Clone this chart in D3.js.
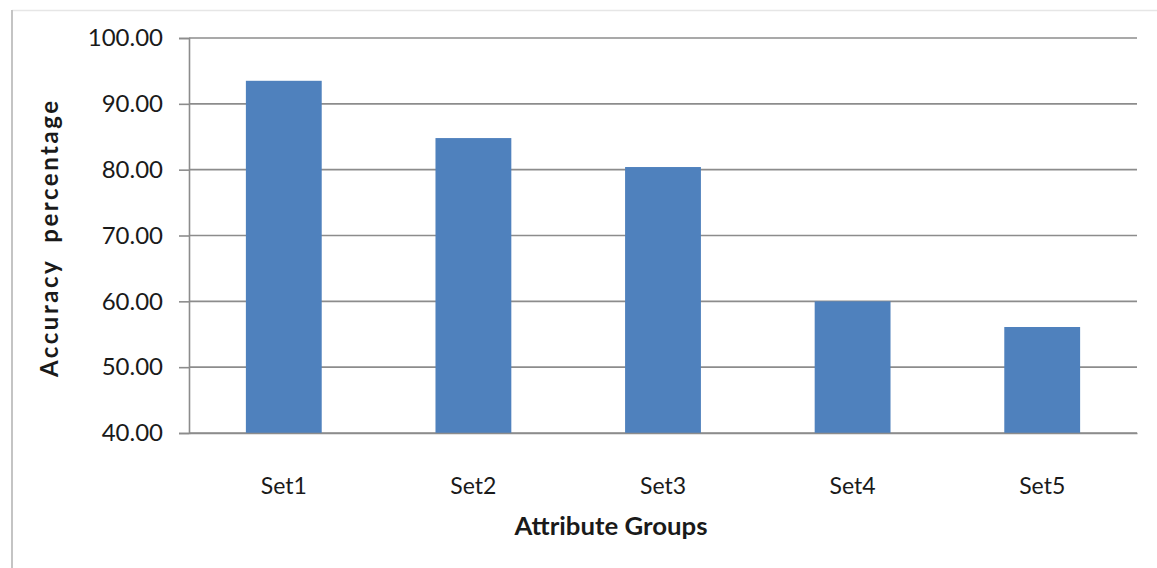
<!DOCTYPE html>
<html>
<head>
<meta charset="utf-8">
<script src="https://cdn.jsdelivr.net/npm/d3@7"></script>
<style>
  html, body { margin: 0; padding: 0; background: #ffffff; }
  svg { display: block; }
</style>
</head>
<body>
<svg id="chart" width="1157" height="568"></svg>
<script>
// Accuracy per attribute group
const categories = ["Set1", "Set2", "Set3", "Set4", "Set5"];
const accuracy = [93.5, 84.8, 80.4, 60.0, 56.1];
const yTicks = [40, 50, 60, 70, 80, 90, 100];
const yDomain = [40, 100];
const xTitle = "Attribute Groups";
const yTitle = "Accuracy  percentage";

const W = 1157, H = 568;
const margin = { left: 189, right: 20, top: 38, bottom: 135 };
const svg = d3.select("#chart");
const FONT = "Lato, 'Open Sans', sans-serif";

// chart frame
svg.append("line").attr("x1", 12).attr("x2", W).attr("y1", 10.5).attr("y2", 10.5)
  .attr("stroke", "#e6e6e6").attr("stroke-width", 1.5);
svg.append("line").attr("x1", 12).attr("x2", 12).attr("y1", 10).attr("y2", H)
  .attr("stroke", "#c4c4c4").attr("stroke-width", 2);

const x = d3.scaleBand()
  .domain(categories)
  .range([margin.left, W - margin.right])
  .paddingInner(0.6)
  .paddingOuter(0.3);

const y = d3.scaleLinear()
  .domain(yDomain)
  .range([H - margin.bottom, margin.top]);

// horizontal gridlines
svg.append("g")
  .selectAll("line")
  .data(yTicks)
  .join("line")
  .attr("x1", margin.left)
  .attr("x2", W - margin.right)
  .attr("y1", d => y(d))
  .attr("y2", d => y(d))
  .attr("stroke", "#8c8c8c")
  .attr("stroke-width", 1.6);

// bars
svg.append("g")
  .selectAll("rect")
  .data(categories.map((c, i) => ({ c, v: accuracy[i] })))
  .join("rect")
  .attr("x", d => x(d.c))
  .attr("width", x.bandwidth())
  .attr("y", d => y(d.v))
  .attr("height", d => y(yDomain[0]) - y(d.v))
  .attr("fill", "#4f81bd");

// y axis
const yAxis = svg.append("g")
  .attr("transform", `translate(${margin.left},0)`)
  .call(d3.axisLeft(y).tickValues(yTicks).tickSize(10).tickPadding(16)
    .tickFormat(d3.format(".2f")));
yAxis.select(".domain").attr("stroke", "#8c8c8c").attr("stroke-width", 1.6);
yAxis.selectAll(".tick line").attr("stroke", "#8c8c8c").attr("stroke-width", 1.6);
yAxis.selectAll(".tick text")
  .attr("font-family", FONT)
  .attr("font-size", 24)
  .attr("fill", "#1a1a1a");

// x axis
const xAxis = svg.append("g")
  .attr("transform", `translate(0,${y(yDomain[0])})`)
  .call(d3.axisBottom(x).tickSize(0).tickPadding(45));
xAxis.select(".domain").attr("stroke", "#8c8c8c").attr("stroke-width", 1.6);
xAxis.selectAll(".tick text")
  .attr("font-family", FONT)
  .attr("font-size", 23)
  .attr("fill", "#1a1a1a");

// axis titles
svg.append("text")
  .attr("x", 611)
  .attr("y", 535)
  .attr("text-anchor", "middle")
  .attr("font-family", FONT)
  .attr("font-weight", "bold")
  .attr("font-size", 25)
  .attr("textLength", 193)
  .attr("lengthAdjust", "spacingAndGlyphs")
  .attr("fill", "#1a1a1a")
  .text(xTitle);

svg.append("text")
  .attr("transform", `translate(58,239) rotate(-90)`)
  .attr("text-anchor", "middle")
  .attr("font-family", FONT)
  .attr("font-weight", "bold")
  .attr("font-size", 24)
  .attr("textLength", 276)
  .attr("lengthAdjust", "spacing")
  .attr("xml:space", "preserve")
  .style("white-space", "pre")
  .attr("fill", "#1a1a1a")
  .text(yTitle);
</script>
</body>
</html>
